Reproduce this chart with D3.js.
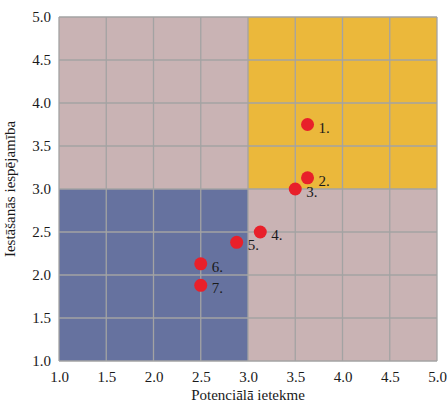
<!DOCTYPE html>
<html>
<head>
<meta charset="utf-8">
<script src="https://cdn.jsdelivr.net/npm/d3@7"></script>
<style>
  body { margin: 0; background: #fff; }
  text { font-family: "Liberation Serif", "Times New Roman", serif; fill: #1a1a1a; }
</style>
</head>
<body>
<div class="vis"></div>
<script>
// risk points
const labels = ["1.", "2.", "3.", "4.", "5.", "6.", "7."];
const impact = [3.63, 3.63, 3.5, 3.13, 2.88, 2.5, 2.5];
const likelihood = [3.75, 3.13, 3.0, 2.5, 2.38, 2.13, 1.88];
const ticks = [1.0, 1.5, 2.0, 2.5, 3.0, 3.5, 4.0, 4.5, 5.0];

const margin = { top: 17, right: 10, bottom: 42, left: 59 };
const width = 447 - margin.left - margin.right;
const height = 403 - margin.top - margin.bottom;

const svg = d3.select(".vis")
  .append("svg")
  .attr("width", 447)
  .attr("height", 403)
  .append("g")
  .attr("transform", "translate(" + margin.left + "," + margin.top + ")");

const xScale = d3.scaleLinear().domain([1, 5]).range([0, width]);
const yScale = d3.scaleLinear().domain([1, 5]).range([height, 0]);

// background and quadrants
svg.append("rect")
  .attr("width", width).attr("height", height)
  .attr("fill", "#c9b3b4");

svg.append("rect")
  .attr("x", xScale(3)).attr("y", yScale(5))
  .attr("width", xScale(5) - xScale(3))
  .attr("height", yScale(3) - yScale(5))
  .attr("fill", "#ebb83b");

svg.append("rect")
  .attr("x", xScale(1)).attr("y", yScale(3))
  .attr("width", xScale(3) - xScale(1))
  .attr("height", yScale(1) - yScale(3))
  .attr("fill", "#66729f");

// grid
svg.selectAll(".vgrid").data(ticks).enter().append("line")
  .attr("x1", d => xScale(d)).attr("x2", d => xScale(d))
  .attr("y1", 0).attr("y2", height)
  .attr("stroke", "#a3a3a3").attr("stroke-width", 1.3);

svg.selectAll(".hgrid").data(ticks).enter().append("line")
  .attr("y1", d => yScale(d)).attr("y2", d => yScale(d))
  .attr("x1", 0).attr("x2", width)
  .attr("stroke", "#a3a3a3").attr("stroke-width", 1.3);

// axes
const xAxis = svg.append("g")
  .attr("transform", "translate(0," + height + ")")
  .call(d3.axisBottom(xScale).tickValues(ticks).tickFormat(d3.format(".1f")).tickSize(0).tickPadding(10));
const yAxis = svg.append("g")
  .call(d3.axisLeft(yScale).tickValues(ticks).tickFormat(d3.format(".1f")).tickSize(0).tickPadding(8));
[xAxis, yAxis].forEach(a => {
  a.attr("font-family", null).attr("font-size", null);
  a.select(".domain").remove();
  a.selectAll("text").style("font-size", "15px").attr("fill", "#1a1a1a");
});

// axis titles
svg.append("text")
  .attr("x", width / 2)
  .attr("y", height + 39)
  .style("text-anchor", "middle")
  .style("font-size", "15px")
  .text("Potenciālā ietekme");

svg.append("text")
  .attr("transform", "rotate(-90)")
  .attr("x", -height / 2)
  .attr("y", -44)
  .style("text-anchor", "middle")
  .style("font-size", "15px")
  .text("Iestāšanās iespējamība");

// points
const points = labels.map((l, i) => ({ label: l, x: impact[i], y: likelihood[i] }));

svg.selectAll("circle")
  .data(points)
  .enter().append("circle")
  .attr("cx", d => xScale(d.x))
  .attr("cy", d => yScale(d.y))
  .attr("r", 6.5)
  .attr("fill", "#e8202a");

svg.selectAll(".pt-label")
  .data(points)
  .enter().append("text")
  .attr("class", "pt-label")
  .attr("x", d => xScale(d.x) + 11)
  .attr("y", d => yScale(d.y) + 8)
  .style("font-size", "15px")
  .text(d => d.label);
</script>
</body>
</html>
